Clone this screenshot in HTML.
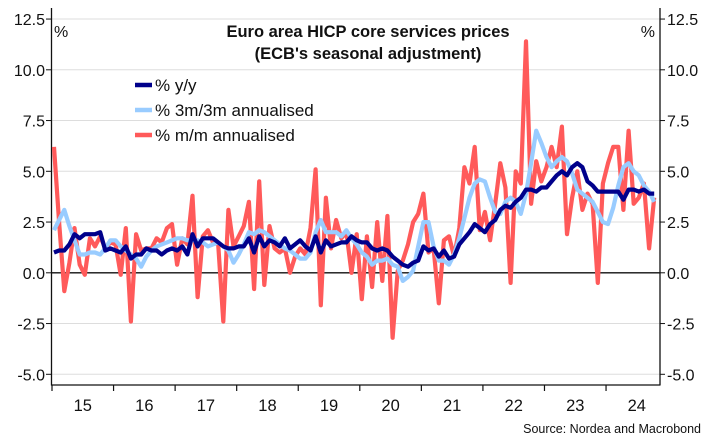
<!DOCTYPE html>
<html><head><meta charset="utf-8">
<style>
html,body{margin:0;padding:0;background:#fff;}
svg{display:block;font-family:"Liberation Sans",sans-serif;}
</style></head>
<body>
<svg id="chart" width="710" height="448" viewBox="0 0 710 448">
<g id="grid"></g>
<g id="yl"></g>
<g id="yr"></g>
<g id="xa"></g>
<g id="series"></g>
<text x="54" y="37" font-size="16" fill="#111">%</text>
<text x="655" y="37" font-size="16" fill="#111" text-anchor="end">%</text>
<text x="368" y="37" font-size="16.5" font-weight="bold" fill="#111" text-anchor="middle">Euro area HICP core services prices</text>
<text x="368" y="59" font-size="16.5" font-weight="bold" fill="#111" text-anchor="middle">(ECB's seasonal adjustment)</text>
<g>
<g><line x1="135" y1="85" x2="152" y2="85" stroke="#00008b" stroke-width="4.5"/><text x="155" y="91" font-size="17" fill="#111">% y/y</text></g>
<g><line x1="135" y1="110" x2="152" y2="110" stroke="#99ccff" stroke-width="4.5"/><text x="155" y="116" font-size="17" fill="#111">% 3m/3m annualised</text></g>
<g><line x1="135" y1="135" x2="152" y2="135" stroke="#ff5a5a" stroke-width="4.5"/><text x="155" y="141" font-size="17" fill="#111">% m/m annualised</text></g>
</g>
<text x="701" y="433" font-size="12.5" fill="#111" text-anchor="end">Source: Nordea and Macrobond</text>
</svg>
<script>
const yTicks = [12.5, 10.0, 7.5, 5.0, 2.5, 0.0, -2.5, -5.0];
const yearLabels = ["15","16","17","18","19","20","21","22","23","24"];
const mmAnnualised = [6.2,2.5,-0.9,0.5,2.2,0.4,-0.1,1.7,1.3,1.8,1.2,1.5,
1.4,-0.1,2.2,-2.4,1.9,1.1,1.2,1.2,1.7,1.5,2.2,2.4,
0.4,1.7,1.4,3.8,-1.2,1.8,2.1,1.5,1.4,-2.4,3.1,1.3,
1.8,2.3,3.5,-0.8,4.5,-0.6,2.3,1.2,1.0,1.2,0.0,0.8,
1.2,0.9,2.2,5.1,-1.6,3.7,1.2,2.6,1.7,2.0,0.0,1.9,
-1.3,1.8,-0.7,2.5,-0.4,2.8,-3.2,0.1,0.6,1.4,2.5,2.9,
3.9,1.0,1.2,-1.5,1.6,1.8,0.8,2.2,
5.2,4.4,6.2,2.1,3.0,1.6,3.4,5.4,4.2,-0.5,5.0,4.4,11.4,3.4,5.5,4.5,5.2,6.2,5.2,7.2,1.9,3.7,5.0,3.1,3.9,3.4,-0.5,4.4,5.4,6.2,6.2,3.1,7.0,3.4,3.7,4.4,1.2,3.7];
const threeMonth = [2.1,2.6,3.1,2.3,1.6,0.9,0.9,1.0,1.0,0.9,1.2,1.6,
1.6,1.3,1.1,0.9,0.7,0.3,0.8,1.1,1.3,1.4,1.5,1.6,
1.7,1.7,1.6,1.6,1.6,1.5,1.3,1.4,1.5,1.3,1.1,0.5,
0.9,1.4,2.0,1.9,2.1,2.0,1.8,1.6,1.4,1.2,1.1,0.9,
0.7,0.7,1.0,2.0,2.6,2.0,2.0,2.0,1.8,2.1,1.7,1.4,
1.0,0.8,0.4,0.6,0.6,0.7,0.4,0.3,-0.4,-0.2,0.1,1.3,
2.5,2.5,1.3,0.6,0.6,0.4,0.9,1.7,
2.7,3.7,4.4,4.6,4.5,3.7,3.0,2.9,3.5,3.7,3.5,2.9,3.9,5.4,7.0,6.4,5.7,5.2,5.5,5.7,5.5,4.9,4.1,3.9,3.7,3.5,3.0,2.5,2.4,3.2,4.3,5.2,5.4,5.0,4.8,4.3,4.0,3.5];
const yearOnYear = [1.0,1.1,1.1,1.4,1.9,1.7,1.9,1.9,1.9,2.0,1.1,1.2,
1.1,1.0,1.3,0.7,0.9,0.9,1.2,1.1,1.1,0.9,1.1,1.2,
1.1,1.3,0.9,1.9,1.3,1.7,1.7,1.7,1.5,1.3,1.2,1.2,
1.3,1.3,1.7,1.0,1.8,1.3,1.6,1.5,1.3,1.7,1.2,1.4,
1.6,1.3,1.1,1.8,1.0,1.6,1.3,1.4,1.5,1.5,1.8,1.6,
1.5,1.5,1.2,1.1,1.2,1.1,0.8,0.6,0.4,0.3,0.5,0.6,
1.3,1.1,1.2,0.8,1.1,0.7,0.8,1.4,
1.7,2.0,2.4,2.2,2.0,2.4,2.6,3.1,3.3,3.2,3.5,3.7,4.1,4.1,4.0,4.2,4.2,4.5,4.8,5.0,4.8,5.2,5.4,5.2,4.5,4.3,4.0,4.0,4.0,4.0,4.0,3.6,4.1,4.1,4.0,4.1,3.9,3.9];

const NS = "http://www.w3.org/2000/svg";
const X0 = 52, X1 = 660, YEAR = 61.56, MONTH = YEAR/12;
function y(v){ return 272.8 - v*20.3; }
function x(i){ return X0 + 2 + i*MONTH; }
function mk(tag, attrs, parent){ const e=document.createElementNS(NS,tag); for(const k in attrs) e.setAttribute(k,attrs[k]); parent.appendChild(e); return e; }
const grid=document.getElementById('grid'), yl=document.getElementById('yl'), yr=document.getElementById('yr'), xa=document.getElementById('xa'), ser=document.getElementById('series');

yTicks.forEach(v=>{
  const gy=y(v);
  if(v!==0){
    const g=mk('line',{x1:X0-1,x2:X1,y1:gy,y2:gy,stroke:'#dddddd','stroke-width':1},grid);
    
    
  } else {
    const z=mk('line',{x1:X0-1,x2:X1,y1:gy,y2:gy,stroke:'#111','stroke-width':1.3},grid);
    
    
  }
  mk('line',{x1:X0-6,x2:X0-1,y1:gy,y2:gy,stroke:'#111','stroke-width':1},yl);
  const t=mk('text',{x:X0-7,y:gy+6,'font-size':16,fill:'#111','text-anchor':'end'},yl);
  t.textContent=v.toFixed(1);
  
  
  mk('line',{x1:X1,x2:X1+5,y1:gy,y2:gy,stroke:'#111','stroke-width':1},yr);
  const t2=mk('text',{x:X1+7,y:gy+6,'font-size':16,fill:'#111'},yr);
  t2.textContent=v.toFixed(1);
  
  
});
mk('line',{x1:X0-0.5,x2:X0-0.5,y1:8,y2:385.5,stroke:'#111','stroke-width':1.3},yl);
mk('line',{x1:X1,x2:X1,y1:8,y2:385.5,stroke:'#111','stroke-width':1.3},yr);
mk('line',{x1:X0-1,x2:X1,y1:385,y2:385,stroke:'#111','stroke-width':1.3},xa);
yearLabels.forEach((lab,k)=>{
  const tx=X0+k*YEAR;
  mk('line',{x1:tx,x2:tx,y1:385,y2:391,stroke:'#111','stroke-width':1.2},xa);
  const t=mk('text',{x:tx+YEAR/2,y:411,'font-size':16.5,fill:'#111','text-anchor':'middle'},xa);
  t.textContent=lab;
  
  
});

function line(data,color,w,name){
  const d=data.map((v,i)=>(i?'L':'M')+x(i).toFixed(1)+','+y(v).toFixed(1)).join('');
  const p=mk('path',{d:d,fill:'none',stroke:color,'stroke-width':w,'stroke-linejoin':'round'},ser);
  
  
}
line(mmAnnualised,'#ff5a5a',4.2,'mm-annualised-line');
line(threeMonth,'#99ccff',4.2,'3m3m-annualised-line');
line(yearOnYear,'#00008b',4.2,'yy-line');
</script>
</body></html>
